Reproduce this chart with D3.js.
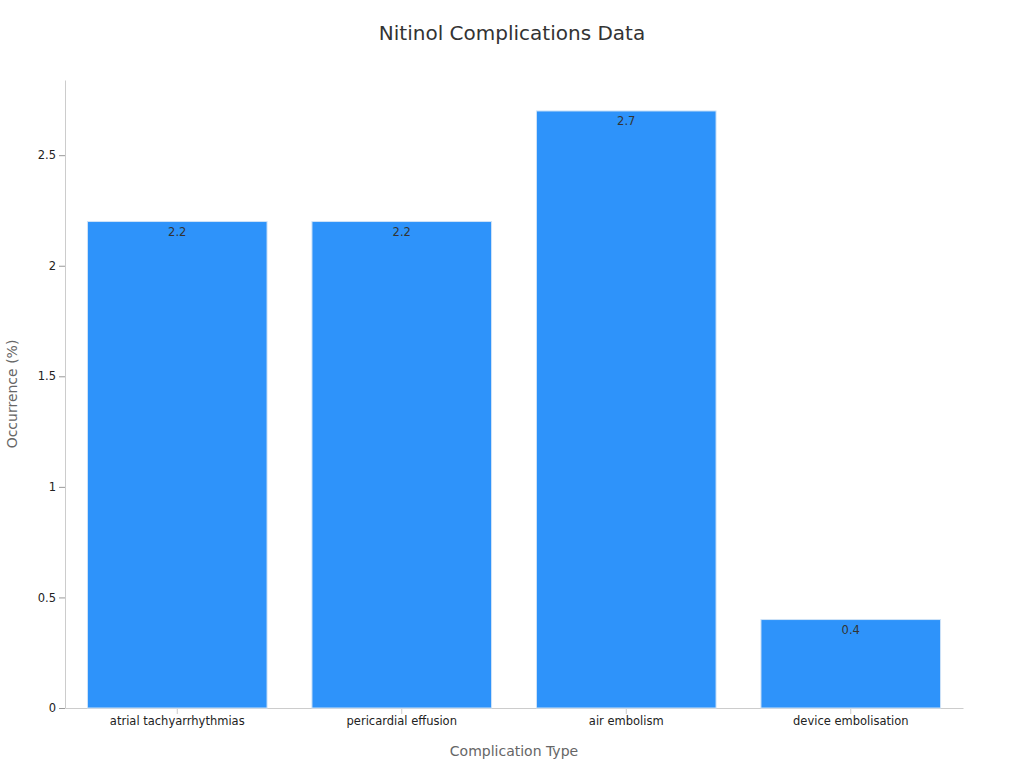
<!DOCTYPE html>
<html>
<head>
<meta charset="utf-8">
<script src="https://cdn.jsdelivr.net/npm/d3@7"></script>
<style>
  body { margin: 0; background: #fff; font-family: "DejaVu Sans", sans-serif; }
</style>
</head>
<body>
<svg id="chart" width="1024" height="768"></svg>
<script>
const categories = ["atrial tachyarrhythmias", "pericardial effusion", "air embolism", "device embolisation"];
const values = [2.2, 2.2, 2.7, 0.4];
const yTicks = [0, 0.5, 1, 1.5, 2, 2.5];

const margin = { top: 80, right: 61, bottom: 60, left: 65 };
const width = 1024, height = 768;

const svg = d3.select("#chart");

const x = d3.scaleBand().domain(categories)
  .range([margin.left, width - margin.right])
  .paddingInner(0.2).paddingOuter(0.1);
const y = d3.scaleLinear().domain([0, 2.84]).range([height - margin.bottom, margin.top]);

// x axis
const xAxis = svg.append("g")
  .attr("transform", `translate(0, ${height - margin.bottom})`)
  .call(d3.axisBottom(x).tickSizeOuter(0));
xAxis.select(".domain").attr("stroke", "#ccc");
xAxis.selectAll(".tick line").attr("stroke", "#ccc");
xAxis.selectAll("text").attr("fill", "#222").style("font-size", "11.5px").style("font-family", "DejaVu Sans");

// y axis
const yAxis = svg.append("g")
  .attr("transform", `translate(${margin.left}, 0)`)
  .call(d3.axisLeft(y).tickValues(yTicks).tickFormat(d3.format("")).tickSizeOuter(0));
yAxis.select(".domain").attr("stroke", "#ccc");
yAxis.selectAll(".tick line").attr("stroke", "#999");
yAxis.selectAll("text").attr("fill", "#222").style("font-size", "11.5px").style("font-family", "DejaVu Sans");

svg.append("g").selectAll("rect")
  .data(values)
  .join("rect")
  .attr("x", (d, i) => x(categories[i]))
  .attr("y", d => y(d))
  .attr("width", x.bandwidth())
  .attr("height", d => y(0) - y(d))
  .attr("fill", "#2E93FA")
  .attr("stroke", "#cfe3f7")
  .attr("stroke-width", 1);

svg.append("g").selectAll("text")
  .data(values)
  .join("text")
  .attr("x", (d, i) => x(categories[i]) + x.bandwidth() / 2)
  .attr("y", d => y(d) + 14)
  .attr("text-anchor", "middle")
  .attr("fill", "#333")
  .style("font-size", "11.5px")
  .text(d => d);

svg.append("text")
  .attr("x", width / 2).attr("y", 40)
  .attr("text-anchor", "middle")
  .attr("fill", "#333")
  .style("font-size", "20px")
  .text("Nitinol Complications Data");

svg.append("text")
  .attr("x", (margin.left + width - margin.right) / 2).attr("y", 756)
  .attr("text-anchor", "middle")
  .attr("fill", "#666")
  .style("font-size", "14px")
  .text("Complication Type");

svg.append("text")
  .attr("transform", `translate(17, ${(margin.top + height - margin.bottom) / 2}) rotate(-90)`)
  .attr("text-anchor", "middle")
  .attr("fill", "#666")
  .style("font-size", "14px")
  .text("Occurrence (%)");
</script>
</body>
</html>
